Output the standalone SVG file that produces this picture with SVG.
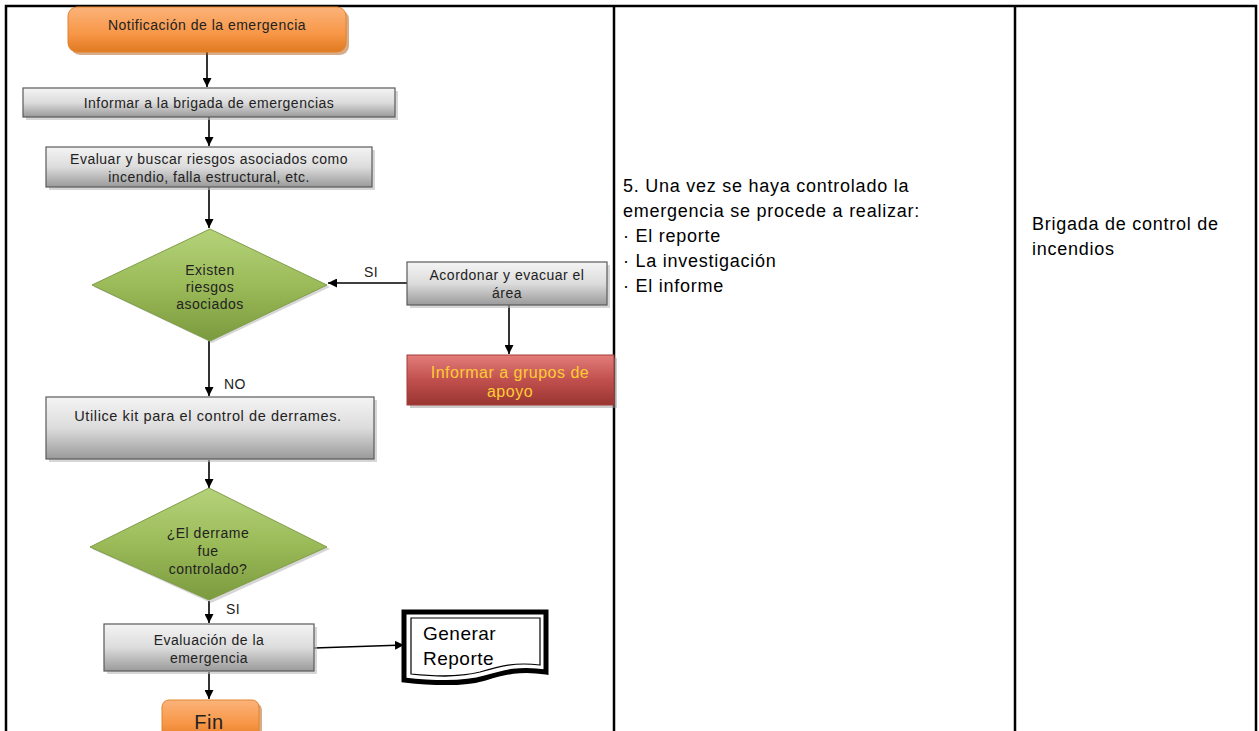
<svg xmlns="http://www.w3.org/2000/svg" width="1259" height="731" viewBox="0 0 1259 731">
<defs>
<linearGradient id="gGray" x1="0" y1="0" x2="0" y2="1"><stop offset="0" stop-color="#f4f4f4"/><stop offset="0.5" stop-color="#dcdcdc"/><stop offset="1" stop-color="#9a9a9a"/></linearGradient>
<linearGradient id="gOrange" x1="0" y1="0" x2="0" y2="1"><stop offset="0" stop-color="#fbb37a"/><stop offset="0.6" stop-color="#f79646"/><stop offset="1" stop-color="#e07a22"/></linearGradient>
<linearGradient id="gGreen" x1="0" y1="0" x2="0" y2="1"><stop offset="0" stop-color="#b5d27a"/><stop offset="0.5" stop-color="#9bbb59"/><stop offset="1" stop-color="#7a9a3e"/></linearGradient>
<linearGradient id="gRed" x1="0" y1="0" x2="0" y2="1"><stop offset="0" stop-color="#e37d7a"/><stop offset="0.5" stop-color="#c0504d"/><stop offset="1" stop-color="#9a3532"/></linearGradient>
<marker id="arr" viewBox="0 0 10 10" refX="10" refY="5" markerWidth="9" markerHeight="9" markerUnits="userSpaceOnUse" orient="auto"><path d="M0,0 L10,5 L0,10 z" fill="#000"/></marker>
</defs>
<style>
.t{font-family:"Liberation Sans",Arial,sans-serif;fill:#222;font-size:14px;letter-spacing:0.5px;}
.big{font-size:19px;fill:#000;}
.fin{font-size:20px;}
.ut{font-size:14.5px;letter-spacing:0.6px;}
.box{fill:url(#gGray);stroke:#5a5a5a;stroke-width:1.2;}
.sh{fill:#bbb;opacity:0.6;}
.c{stroke:#000;stroke-width:1.6;fill:none;}
.tb{stroke:#000;stroke-width:2.5;fill:none;}
.side{font-family:"Liberation Sans",Arial,sans-serif;fill:#000;font-size:18px;letter-spacing:0.75px;}
.rt{font-family:"Liberation Sans",Arial,sans-serif;fill:#ffcc33;font-size:16px;letter-spacing:0.5px;}
</style>
<rect width="1259" height="731" fill="#fff"/>
<g id="table">
<path class="tb" d="M6,731 V6 H1256 V731 M614,6 V731 M1015,6 V731"/>
</g>
<g id="connectors">
<line class="c" x1="207" y1="52" x2="207" y2="87" marker-end="url(#arr)"/>
<line class="c" x1="209" y1="117" x2="209" y2="146" marker-end="url(#arr)"/>
<line class="c" x1="209" y1="187" x2="209" y2="228" marker-end="url(#arr)"/>
<line class="c" x1="407" y1="283" x2="328" y2="283" marker-end="url(#arr)"/>
<line class="c" x1="509" y1="305" x2="509" y2="354" marker-end="url(#arr)"/>
<line class="c" x1="209" y1="341" x2="209" y2="396" marker-end="url(#arr)"/>
<line class="c" x1="209" y1="460" x2="209" y2="488" marker-end="url(#arr)"/>
<line class="c" x1="209" y1="601" x2="209" y2="623" marker-end="url(#arr)"/>
<line class="c" x1="314" y1="648" x2="404" y2="645" marker-end="url(#arr)"/>
<line class="c" x1="209" y1="672" x2="209" y2="699" marker-end="url(#arr)"/>
<text class="t" x="364" y="277">SI</text>
<text class="t" x="224" y="389">NO</text>
<text class="t" x="226" y="614">SI</text>
</g>
<g id="n1">
<rect x="71" y="10" width="278" height="45" rx="9" fill="#b05a12" opacity="0.5"/>
<rect x="68" y="7" width="278" height="45" rx="9" fill="url(#gOrange)" stroke="#e2842f"/>
<text class="t" x="207" y="30" text-anchor="middle">Notificación de la emergencia</text>
</g>
<g id="n2">
<rect class="sh" x="26" y="91" width="372" height="29"/>
<rect class="box" x="23" y="88" width="372" height="29"/>
<text class="t" x="209" y="108" text-anchor="middle">Informar a la brigada de emergencias</text>
</g>
<g id="n3">
<rect class="sh" x="49" y="150" width="326" height="40"/>
<rect class="box" x="46" y="147" width="326" height="40"/>
<text class="t" x="209" y="164" text-anchor="middle">Evaluar y buscar riesgos asociados como</text>
<text class="t" x="209" y="182" text-anchor="middle">incendio, falla estructural, etc.</text>
</g>
<g id="n4">
<polygon points="212,231 330,287 212,343 94,287" fill="#8a8a8a" opacity="0.35"/>
<polygon points="210,229 327,285 210,341 92,285" fill="url(#gGreen)" stroke="#7f9d48"/>
<text class="t" x="210" y="275" text-anchor="middle">Existen</text>
<text class="t" x="210" y="292" text-anchor="middle">riesgos</text>
<text class="t" x="210" y="309" text-anchor="middle">asociados</text>
</g>
<g id="n5">
<rect class="sh" x="410" y="265" width="200" height="43"/>
<rect class="box" x="407" y="262" width="200" height="43"/>
<text class="t" x="507" y="280" text-anchor="middle">Acordonar y evacuar el</text>
<text class="t" x="507" y="298" text-anchor="middle">área</text>
</g>
<g id="n6">
<rect x="410" y="358" width="207" height="50" fill="#999" opacity="0.5"/>
<rect x="407" y="355" width="207" height="50" fill="url(#gRed)" stroke="#a33c39"/>
<text class="rt" x="510" y="378" text-anchor="middle">Informar a grupos de</text>
<text class="rt" x="510" y="397" text-anchor="middle">apoyo</text>
</g>
<g id="n7">
<rect class="sh" x="49" y="400" width="328" height="62"/>
<rect class="box" x="46" y="397" width="328" height="62"/>
<text class="t ut" x="208" y="421" text-anchor="middle">Utilice kit para el control de derrames.</text>
</g>
<g id="n8">
<polygon points="211,490 330,549 211,603 92,549" fill="#8a8a8a" opacity="0.35"/>
<polygon points="209,488 327,547 209,600 90,547" fill="url(#gGreen)" stroke="#7f9d48"/>
<text class="t" x="208" y="538" text-anchor="middle">¿El derrame</text>
<text class="t" x="208" y="556" text-anchor="middle">fue</text>
<text class="t" x="208" y="574" text-anchor="middle">controlado?</text>
</g>
<g id="n9">
<rect class="sh" x="107" y="627" width="210" height="47"/>
<rect class="box" x="104" y="624" width="210" height="47"/>
<text class="t" x="209" y="645" text-anchor="middle">Evaluación de la</text>
<text class="t" x="209" y="663" text-anchor="middle">emergencia</text>
</g>
<g id="n10">
<rect x="165" y="703" width="97" height="40" rx="7" fill="#b05a12" opacity="0.5"/>
<rect x="162" y="700" width="97" height="40" rx="7" fill="url(#gOrange)" stroke="#e2842f"/>
<text class="t fin" x="209" y="729" text-anchor="middle">Fin</text>
</g>
<g id="n11">
<path d="M404,612 H546 V672 C520,668 505,672 485,678 C465,684 440,684 404,680 Z" fill="#fff" stroke="#000" stroke-width="5"/>
<path d="M411,618 H540 V665 C515,662 500,666 480,672 C460,677 440,677 411,674 Z" fill="#fff" stroke="#000" stroke-width="1.2"/>
<text class="t big" x="423" y="640">Generar</text>
<text class="t big" x="423" y="665">Reporte</text>
</g>
<g id="col2">
<text class="side" x="623" y="192">5. Una vez se haya controlado la</text>
<text class="side" x="623" y="217">emergencia se procede a realizar:</text>
<text class="side" x="623" y="242">· El reporte</text>
<text class="side" x="623" y="267">· La investigación</text>
<text class="side" x="623" y="292">· El informe</text>
</g>
<g id="col3">
<text class="side" x="1032" y="230">Brigada de control de</text>
<text class="side" x="1032" y="255">incendios</text>
</g>
</svg>
